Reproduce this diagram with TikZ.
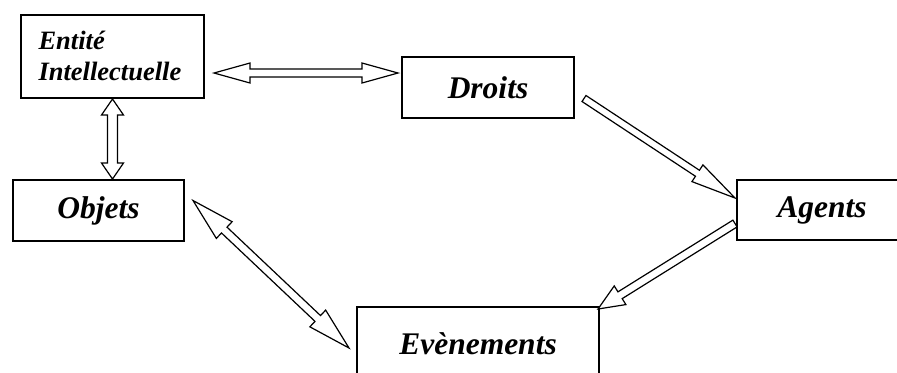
\documentclass[tikz,border=0pt]{standalone}
\usepackage{fontspec}
\setmainfont{Liberation Serif}
\usetikzlibrary{calc}

\tikzset{
	boite/.style={draw, line width=1pt, anchor=north west, inner sep=0pt,
		font=\bfseries\itshape\fontsize{15.75}{19}\selectfont},
	fleche/.style={draw, fill=white, line width=0.6pt}
}

% fleche simple : queue, pointe, demi-largeur tige, demi-largeur tete, longueur tete
\newcommand{\flecheS}[5]{%
	\coordinate (qA) at (#1);
	\coordinate (qB) at (#2);
	\coordinate (tB) at ($(qB)!#5!(qA)$);
	\draw[fleche] ($(qA)!#3!90:(qB)$) -- ($(tB)!#3!90:(qB)$) -- ($(tB)!#4!90:(qB)$) -- (qB)
		-- ($(tB)!#4!-90:(qB)$) -- ($(tB)!#3!-90:(qB)$) -- ($(qA)!#3!-90:(qB)$) -- cycle;
}

% fleche double : pointe, pointe, demi-largeur tige, demi-largeur tete, longueur tete
\newcommand{\flecheD}[5]{%
	\coordinate (qA) at (#1);
	\coordinate (qB) at (#2);
	\coordinate (tA) at ($(qA)!#5!(qB)$);
	\coordinate (tB) at ($(qB)!#5!(qA)$);
	\draw[fleche] (qA) -- ($(tA)!#4!90:(qB)$) -- ($(tA)!#3!90:(qB)$) -- ($(tB)!#3!90:(qB)$)
		-- ($(tB)!#4!90:(qB)$) -- (qB) -- ($(tB)!#4!-90:(qB)$) -- ($(tB)!#3!-90:(qB)$)
		-- ($(tA)!#3!-90:(qB)$) -- ($(tA)!#4!-90:(qB)$) -- cycle;
}

\begin{document}
\begin{tikzpicture}[x=0.5pt, y=-0.5pt]
	\useasboundingbox (0,0) rectangle (897,372);
	\clip (0,0) rectangle (897,372);

	% Boites
	\node[boite, text width=74pt, inner xsep=8.75pt, align=left, text height=17.15pt, text depth=24.35pt,
		font=\bfseries\itshape\fontsize{13.25}{15.5}\selectfont] (ent) at (20,14) {Entité\\Intellectuelle};
	\node[boite, minimum width=86pt, minimum height=30.5pt] (dro) at (401,56) {Droits};
	\node[boite, minimum width=85pt, minimum height=30pt] (age) at (736,179) {Agents};
	\node[boite, minimum width=85.5pt, minimum height=30.5pt] (obj) at (12,179) {Objets};
	\node[boite, minimum width=121pt, minimum height=37pt] (eve) at (356,306) {Evènements};

	% Fleches doubles
	\flecheD{[shift={(9,16.5)}]ent.east}{[shift={(-3,-14.5)}]dro.west}{2pt}{5pt}{18pt}
	\flecheD{ent.south}{[shift={(14,0)}]obj.north}{2.5pt}{5.5pt}{8pt}
	\flecheD{[shift={(8,-10)}]obj.east}{[shift={(-7,4)}]eve.west}{2pt}{5.75pt}{21.5pt}

	% Fleches simples
	\flecheS{[shift={(9,11)}]dro.east}{[shift={(-1,-12)}]age.west}{1.8pt}{5pt}{22.5pt}
	\flecheS{[shift={(-1,13.5)}]age.west}{[shift={(-2,3)}]eve.north east}{2pt}{5.5pt}{13pt}
\end{tikzpicture}
\end{document}
